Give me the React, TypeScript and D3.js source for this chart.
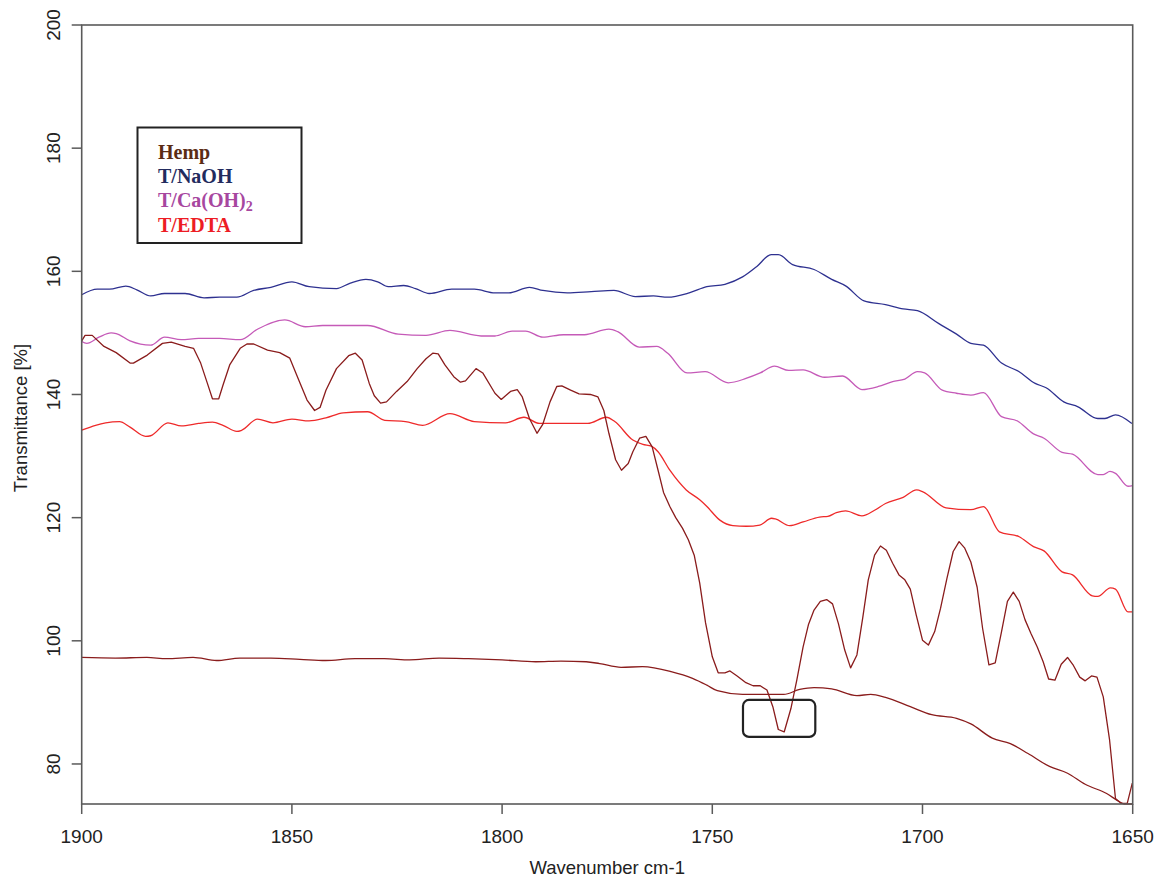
import React from "react";
import * as d3 from "d3";

type Pt = [number, number];

// [wavenumber cm-1, transmittance %]
const naohSpectrum: Pt[] = [
  [1900,156.2],[1896.3,157.1],[1893.4,157.1],[1889.5,157.6],[1886.9,157.0],[1883.6,156.0],[1880.3,156.4],[1875.4,156.4],
  [1870.9,155.7],[1867.2,155.8],[1863.1,155.8],[1859.1,156.9],[1855,157.4],[1850,158.3],[1845.9,157.5],[1839.4,157.2],
  [1836.1,158.1],[1832.4,158.7],[1829.6,158.3],[1827.1,157.5],[1823.4,157.7],[1820.6,157.2],[1817.3,156.4],[1812,157.1],
  [1806.6,157.1],[1801.7,156.5],[1798.4,156.5],[1793.5,157.4],[1790.3,156.9],[1784.5,156.5],[1778.8,156.7],[1773.4,156.9],
  [1768.3,155.9],[1764,156.0],[1760.6,155.8],[1755.5,156.5],[1751.3,157.5],[1747,157.9],[1742.8,159.1],[1739.4,160.8],
  [1736,162.7],[1734.3,162.7],[1730.9,161.1],[1725.8,160.3],[1721.6,158.7],[1718.2,157.6],[1713.9,155.2],[1708.8,154.6],
  [1704.6,153.9],[1701.2,153.6],[1696.1,151.5],[1691.9,149.8],[1688.5,148.3],[1685.5,148.0],[1681.2,145.1],[1677,143.7],
  [1673.2,141.8],[1670.6,141.1],[1666.4,138.8],[1663,138.0],[1658.3,136.1],[1656.6,136.1],[1654.1,136.7],[1650.2,135.3],
];

const caohSpectrum: Pt[] = [
  [1900,148.6],[1898.8,148.3],[1895.9,149.3],[1893,150.0],[1891.8,149.9],[1888.5,148.7],[1883.6,148.0],[1880.3,149.3],
  [1876.3,148.9],[1872.2,149.1],[1867.2,149.1],[1862.3,148.9],[1858.2,150.6],[1851.7,152.1],[1846.8,151.0],[1842.7,151.2],
  [1832,151.2],[1824.7,149.8],[1818.1,149.6],[1812.4,150.4],[1805,149.5],[1801.7,149.5],[1797.6,150.3],[1794.4,150.3],
  [1790.3,149.3],[1785.4,149.7],[1780.4,149.7],[1774.6,150.6],[1772.5,150.2],[1767.4,147.7],[1763.2,147.8],[1760.6,146.7],
  [1756,143.5],[1751.7,143.7],[1746.2,141.9],[1742,142.6],[1738.6,143.5],[1735.2,144.6],[1731.8,143.9],[1728.4,144.0],
  [1723.3,142.8],[1719,143.0],[1714.4,140.8],[1710.5,141.3],[1707.1,142.1],[1704.2,142.5],[1701.2,143.7],[1699.5,143.5],
  [1695.3,140.7],[1691.9,140.2],[1688.5,139.9],[1685.5,140.3],[1681.2,136.4],[1677.4,135.7],[1673.6,133.6],[1671.1,132.9],
  [1666.8,130.6],[1664.3,130.3],[1658.3,127.0],[1657,127.0],[1655.4,127.5],[1654.1,127.2],[1651.1,125.1],[1650,125.2],
];

const edtaSpectrum: Pt[] = [
  [1900,134.2],[1896.7,135.0],[1894.3,135.4],[1891,135.6],[1888.5,134.7],[1884.8,133.2],[1883.6,133.3],[1879.5,135.4],
  [1876.3,134.9],[1872.2,135.3],[1868.9,135.5],[1866.4,135.0],[1863.1,134.0],[1861.9,134.2],[1858.2,136.0],[1854.5,135.4],
  [1850,136.0],[1845.9,135.7],[1841.9,136.2],[1837.8,137.0],[1832,137.2],[1827.9,135.8],[1823,135.6],[1818.9,135.0],
  [1812.4,136.9],[1806.6,135.6],[1799.2,135.4],[1794.8,136.3],[1791.1,135.3],[1785.4,135.3],[1779.6,135.3],[1775.2,136.3],
  [1773.2,135.6],[1768.9,132.6],[1766.5,131.9],[1764.5,131.6],[1762.9,130.7],[1760.1,127.7],[1756.2,124.5],[1753,122.9],
  [1751.4,121.9],[1748.2,119.6],[1745.1,118.7],[1741.9,118.6],[1738.7,118.8],[1735.9,119.9],[1735,119.8],[1731.6,118.7],
  [1728.4,119.3],[1724.5,120.1],[1722.5,120.2],[1720.5,120.8],[1718.3,121.1],[1714.4,120.3],[1711.4,121.2],[1708.8,122.3],
  [1704.6,123.3],[1701.4,124.5],[1699.9,124.2],[1694.4,121.6],[1688.5,121.3],[1685.5,121.8],[1681.7,117.7],[1677,116.9],
  [1673.6,115.3],[1671.1,114.6],[1666.8,111.2],[1664.3,110.7],[1659.6,107.3],[1658.3,107.2],[1655.3,108.6],[1654.1,108.4],
  [1651.1,104.7],[1650,104.7],
];

const hempOscSpectrum: Pt[] = [
  [1900,148.7],[1899.2,149.6],[1897.5,149.6],[1894.7,147.8],[1891.8,146.8],[1888.5,145.1],[1887.7,145.1],[1884.4,146.4],
  [1880.8,148.3],[1878.7,148.5],[1875.4,147.8],[1873.4,147.5],[1871.7,145.1],[1870.1,141.8],[1868.9,139.3],[1867.4,139.3],
  [1866.4,141.5],[1864.8,144.8],[1862.3,147.5],[1860.7,148.2],[1859.1,148.2],[1855.8,147.2],[1852.9,146.8],[1850.5,145.9],
  [1848.4,142.4],[1846.4,139.1],[1844.6,137.4],[1843.3,137.9],[1841.9,140.7],[1839.4,144.2],[1836.5,146.3],[1834.9,146.7],
  [1833.3,145.6],[1831.6,141.8],[1830.4,139.8],[1828.9,138.6],[1827.5,138.8],[1825.1,140.5],[1822.6,142.1],[1820.2,144.2],
  [1818.1,145.8],[1816.5,146.7],[1815.2,146.6],[1813.6,144.8],[1811.5,142.9],[1809.9,142.0],[1808.7,142.2],[1806.2,144.2],
  [1804.6,143.5],[1801.7,140.2],[1800.2,139.2],[1798,140.5],[1796.4,140.8],[1795.2,139.6],[1793.5,136.1],[1791.7,133.7],
  [1790.3,135.2],[1788.6,138.8],[1787,141.3],[1785.8,141.4],[1783.7,140.7],[1781.7,140.1],[1779,140.0],[1777.2,139.6],
  [1775.8,137.4],[1774.6,133.7],[1773,129.4],[1771.6,127.7],[1770,128.8],[1768.9,130.7],[1767.3,132.9],[1765.8,133.2],
  [1764.3,131.5],[1762.9,127.7],[1761.6,124.1],[1760.1,121.8],[1758.7,120.0],[1757.1,118.3],[1755.7,116.4],[1754.3,113.9],
  [1753,109.4],[1751.6,102.9],[1750,97.4],[1748.6,94.8],[1747,94.8],[1745.8,95.1],[1744.1,94.3],[1742,93.2],
  [1740.3,92.7],[1738.6,92.7],[1737,92.0],[1735.6,89.3],[1734.3,85.6],[1732.9,85.2],[1731.3,89.0],[1729.9,93.6],
  [1728.4,99.0],[1727.1,102.7],[1725.8,105.0],[1724.3,106.4],[1722.8,106.7],[1721.4,106.0],[1720,102.8],[1718.5,98.5],
  [1717.1,95.6],[1715.6,97.7],[1714.2,103.8],[1712.9,109.9],[1711.4,113.9],[1710,115.4],[1708.6,114.7],[1707.1,112.6],
  [1705.6,110.7],[1704.2,109.9],[1702.9,108.4],[1701.5,104.2],[1700,100.1],[1698.6,99.3],[1697.1,101.5],[1695.7,105.3],
  [1694.2,110.1],[1692.7,114.5],[1691.3,116.1],[1690,115.1],[1688.5,112.8],[1687,108.7],[1685.7,102.0],[1684.2,96.1],
  [1682.7,96.4],[1681.2,101.5],[1679.8,106.4],[1678.4,107.9],[1677,106.4],[1675.6,103.4],[1674.2,101.2],[1672.7,99.0],
  [1671.3,96.6],[1670,93.8],[1668.5,93.6],[1667,96.2],[1665.5,97.3],[1664.1,96.0],[1662.6,94.1],[1661.3,93.5],
  [1659.8,94.3],[1658.5,94.1],[1657,90.9],[1655.5,83.9],[1654.1,74.4],[1652.8,73.6],[1651.3,73.6],[1650.1,76.9],
];

const hempBaseSpectrum: Pt[] = [
  [1900,97.3],[1892,97.2],[1884.5,97.3],[1879.8,97.1],[1873.5,97.3],[1867.9,96.8],[1862.4,97.2],[1855,97.2],
  [1848.1,97.0],[1842,96.8],[1835,97.1],[1828,97.1],[1822,96.9],[1815,97.2],[1808,97.1],[1800,96.9],
  [1792,96.6],[1786,96.7],[1780,96.6],[1776.8,96.3],[1771.7,95.7],[1766.6,95.8],[1759.8,95.0],[1754.7,93.9],
  [1751.3,92.8],[1748.8,91.9],[1742.8,91.3],[1736.9,91.3],[1733,91.3],[1729.2,92.1],[1725.8,92.4],[1721.6,92.2],
  [1715.6,91.1],[1712.3,91.3],[1708.8,90.8],[1702.9,89.3],[1697.8,88.0],[1691.9,87.4],[1688.5,86.5],[1683.4,84.2],
  [1679.1,83.3],[1674.9,81.7],[1669.8,79.6],[1665.5,78.5],[1661.3,76.7],[1656.2,75.2],[1653.2,73.9],[1652,73.5],[1650,73.5],
];

const xTicks = [1900, 1850, 1800, 1750, 1700, 1650];
const yTicks = [80, 100, 120, 140, 160, 180, 200];
const legendLabels = ["Hemp", "T/NaOH", "T/Ca(OH)", "T/EDTA"];
const legendColors = ["#5b2c14", "#222b5e", "#a7479f", "#ed1c24"];
const calloutWn = [1742.7, 1725.5];
const calloutT = [90.4, 84.4];

export default function App() {
  const W = 1166, H = 879;
  const L = 81.7, R = 1132.7, T = 25, B = 804;
  const x = d3.scaleLinear().domain([1900, 1650]).range([L, R]);
  const y = d3.scaleLinear().domain([73.5, 200]).range([B, T]);
  const smooth = d3.line<Pt>().x(d => x(d[0])).y(d => y(d[1])).curve(d3.curveMonotoneX);
  const straight = d3.line<Pt>().x(d => x(d[0])).y(d => y(d[1])).curve(d3.curveLinear);
  const sans = "'Liberation Sans', Arial, sans-serif";
  const serif = "'Liberation Serif', 'Times New Roman', serif";
  const frame = "#5a5a5a";

  const series = [
    { d: naohSpectrum, c: "#2e3190", gen: smooth },
    { d: caohSpectrum, c: "#c55ab8", gen: smooth },
    { d: edtaSpectrum, c: "#ee2a2a", gen: smooth },
    { d: hempBaseSpectrum, c: "#8a1c1c", gen: smooth },
    { d: hempOscSpectrum, c: "#8a1c1c", gen: straight },
  ];

  const cx0 = x(calloutWn[0]), cx1 = x(calloutWn[1]);
  const cy0 = y(calloutT[0]), cy1 = y(calloutT[1]);

  return (
    <svg width={W} height={H} style={{ position: "absolute", left: 0, top: 0, background: "#fff" }}>
      <defs>
        <clipPath id="plot">
          <rect x={L} y={T} width={R - L} height={B - T + 1} />
        </clipPath>
      </defs>
      <rect x={0} y={0} width={W} height={H} fill="#fff" />
      <g clipPath="url(#plot)">
        {series.map((s, i) => (
          <path key={i} d={s.gen(s.d) || ""} fill="none" stroke={s.c} strokeWidth={1.3} strokeLinejoin="round" />
        ))}
      </g>
      {/* frame */}
      <rect x={L} y={T} width={R - L} height={B - T} fill="none" stroke={frame} strokeWidth={1.6} />
      {/* y ticks */}
      {yTicks.map(t => (
        <g key={t}>
          <line x1={L - 10} x2={L} y1={y(t)} y2={y(t)} stroke={frame} strokeWidth={1.5} />
          <text
            transform={`translate(${60},${y(t)}) rotate(-90)`}
            textAnchor="middle"
            fontFamily={sans}
            fontSize={19}
            fill="#222"
          >
            {t}
          </text>
        </g>
      ))}
      {/* x ticks */}
      {xTicks.map(t => (
        <g key={t}>
          <line x1={x(t)} x2={x(t)} y1={B} y2={B + 10} stroke={frame} strokeWidth={1.5} />
          <text x={x(t)} y={843} textAnchor="middle" fontFamily={sans} fontSize={19} fill="#222">
            {t}
          </text>
        </g>
      ))}
      <text x={(L + R) / 2} y={874} textAnchor="middle" fontFamily={sans} fontSize={18.5} fill="#222">
        Wavenumber cm-1
      </text>
      <text
        transform={`translate(${27},${418}) rotate(-90)`}
        textAnchor="middle"
        fontFamily={sans}
        fontSize={18.5}
        fill="#222"
      >
        Transmittance [%]
      </text>
      {/* legend */}
      <rect x={137.5} y={127.5} width={164} height={115.5} fill="#fff" stroke="#222" strokeWidth={2} />
      {legendLabels.map((lab, i) => (
        <text key={lab} x={158} y={158.5 + i * 24.4} fontFamily={serif} fontWeight="bold" fontSize={20} fill={legendColors[i]}>
          {lab}
          {i === 2 ? <tspan fontSize={14} dy={4}>2</tspan> : null}
        </text>
      ))}
      {/* callout */}
      <rect
        x={cx0}
        y={cy0}
        width={cx1 - cx0}
        height={cy1 - cy0}
        rx={6}
        ry={6}
        fill="none"
        stroke="#222"
        strokeWidth={2.2}
      />
    </svg>
  );
}
